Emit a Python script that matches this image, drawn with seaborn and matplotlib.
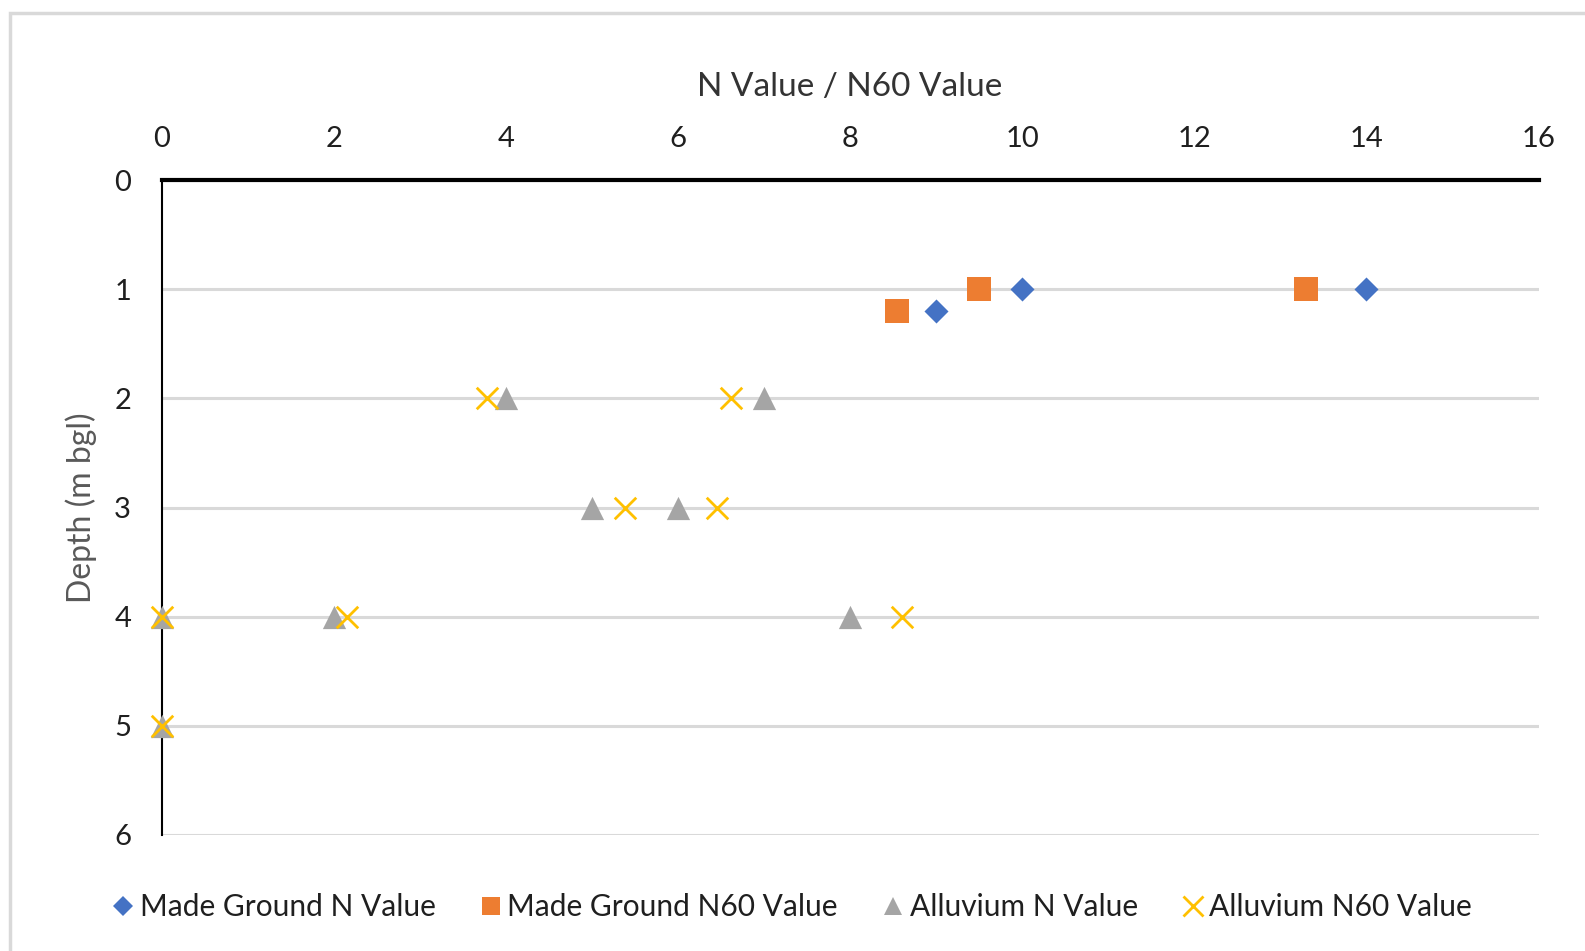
import matplotlib
matplotlib.use("Agg")
import matplotlib.pyplot as plt
from matplotlib.patches import Rectangle
from matplotlib.lines import Line2D
import seaborn as sns
import pandas as pd

# SPT results: blow counts against depth
mg_n_value = [10, 14, 9]
mg_n_depth = [1.0, 1.0, 1.2]
mg_n60_value = [9.5, 13.3, 8.55]
mg_n60_depth = [1.0, 1.0, 1.2]
al_n_value = [4, 7, 5, 6, 0, 2, 8, 0]
al_n_depth = [2, 2, 3, 3, 4, 4, 4, 5]
al_n60_value = [3.78, 6.62, 5.38, 6.45, 0, 2.15, 8.6, 0]
al_n60_depth = [2, 2, 3, 3, 4, 4, 4, 5]

series_names = ["Made Ground N Value", "Made Ground N60 Value",
                "Alluvium N Value", "Alluvium N60 Value"]
x_ticks = [0, 2, 4, 6, 8, 10, 12, 14, 16]
y_ticks = [0, 1, 2, 3, 4, 5, 6]

sns.set_theme(style="white")
plt.rcParams["font.family"] = ["Lato", "DejaVu Sans"]

frames = []
for name, xs, ys in zip(series_names,
                        [mg_n_value, mg_n60_value, al_n_value, al_n60_value],
                        [mg_n_depth, mg_n60_depth, al_n_depth, al_n60_depth]):
    frames.append(pd.DataFrame({"value": xs, "depth": ys, "series": name}))
df = pd.concat(frames, ignore_index=True)

colors = {"Made Ground N Value": "#4472C4",
          "Made Ground N60 Value": "#ED7D31",
          "Alluvium N Value": "#A5A5A5",
          "Alluvium N60 Value": "#FFC000"}
markers = {"Made Ground N Value": "D",
           "Made Ground N60 Value": "s",
           "Alluvium N Value": "^",
           "Alluvium N60 Value": "x"}
sizes = {"Made Ground N Value": 150,
         "Made Ground N60 Value": 280,
         "Alluvium N Value": 280,
         "Alluvium N60 Value": 240}

fig = plt.figure(figsize=(15.85, 9.51), dpi=100)
ax = fig.add_axes([0.102, 0.122, 0.8687, 0.6887])

for name in series_names:
    sub = df[df["series"] == name]
    kw = dict(linewidth=2) if markers[name] == "x" else dict(linewidth=0)
    sns.scatterplot(data=sub, x="value", y="depth", ax=ax, color=colors[name],
                    marker=markers[name], s=sizes[name], zorder=3,
                    legend=False, clip_on=False, **kw)

ax.set_xlim(0, 16)
ax.set_ylim(6, 0)
ax.set_xticks(x_ticks)
ax.set_yticks(y_ticks)
ax.xaxis.tick_top()
ax.xaxis.set_label_position("top")
ax.tick_params(axis="both", length=0, labelsize=21, colors="#1f1f1f")
ax.tick_params(axis="x", pad=20)
ax.tick_params(axis="y", pad=22)

ax.grid(axis="y", color="#D9D9D9", linewidth=2.2, zorder=0)
ax.grid(axis="x", visible=False)
ax.set_axisbelow(True)

for side in ["right", "bottom"]:
    ax.spines[side].set_visible(False)
ax.spines["top"].set_color("black")
ax.spines["top"].set_linewidth(3)
ax.spines["left"].set_color("black")
ax.spines["left"].set_linewidth(1.5)

ax.set_xlabel("N Value / N60 Value", fontsize=24, color="#333333", labelpad=22)
ax.set_ylabel("Depth (m bgl)", fontsize=23, color="#595959", labelpad=12)

handles = [Line2D([], [], linestyle="none", marker=markers[n],
                  color=colors[n], markersize=13 if markers[n] != "x" else 14,
                  markeredgewidth=2 if markers[n] == "x" else 0)
           for n in series_names]
handles[0].set_markersize(10)
fig.legend(handles, series_names, loc="center", ncol=4,
           bbox_to_anchor=(0.5, 0.046), frameon=False, fontsize=21.5,
           handlelength=0.7, handletextpad=0.2, columnspacing=1.5,
           labelcolor="#1f1f1f")

fig.patches.append(Rectangle((10 / 1585, -0.2), 1.5, 1.2 - 13 / 951,
                             transform=fig.transFigure, fill=False,
                             edgecolor="#D9D9D9", linewidth=2.5))

fig.savefig("out.png", dpi=100, facecolor="white")
